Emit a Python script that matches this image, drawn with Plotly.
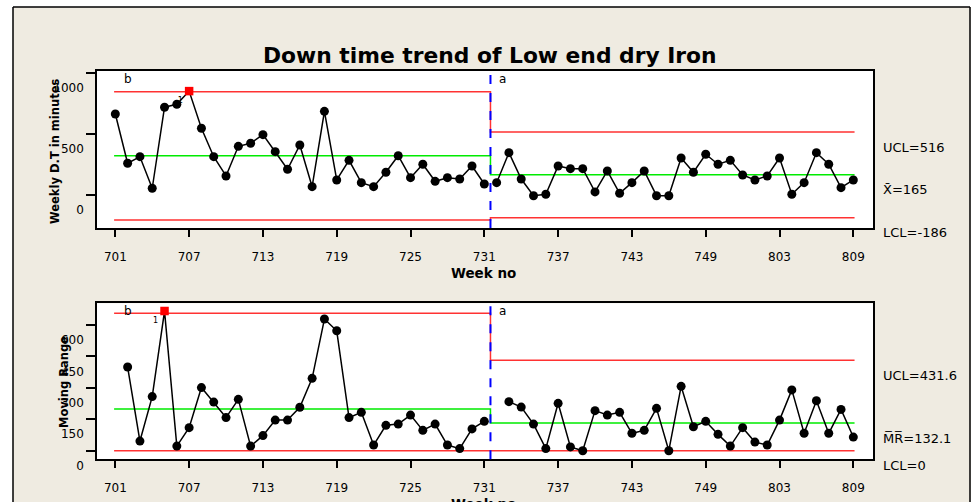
import plotly.graph_objects as go

# ---------------- data ----------------
weeks = [str(w) for w in list(range(701, 753)) + list(range(801, 810))]
tick_weeks = ["701", "707", "713", "719", "725", "731", "737", "743", "749", "803", "809"]

# Individuals, stage b (701-731) and stage a (732-809)
x_b = [664, 260, 314, 55, 720, 744, 852, 547, 314, 156, 399, 424, 495, 355, 211,
       410, 68, 686, 123, 284, 101, 68, 186, 322, 142, 252, 112, 142, 131, 238, 90]
x_a = [101, 347, 131, -6, 6, 238, 216, 216, 25, 197, 14, 101, 197, -6, -6,
       303, 186, 334, 252, 284, 164, 123, 156, 303, 6, 101, 347, 252, 60, 123]

# Moving ranges, stage b (702-731) and stage a (733-809)
mr_b = [399, 46, 258, 666, 22, 110, 301, 232, 158, 245, 22, 72, 146, 146, 207,
        345, 628, 572, 158, 183, 27, 121, 127, 170, 97, 127, 27, 10, 104, 140]
mr_a = [234, 208, 127, 10, 226, 18, 0, 191, 170, 183, 83, 97, 202, 0, 307,
        114, 140, 78, 22, 110, 41, 27, 146, 290, 83, 238, 83, 197, 65]

# Control limits [stage b, stage a]
x_ucl = [847, 516]
x_cl = [321, 165]
x_lcl = [-205, -186]
mr_ucl = [655, 431.6]
mr_cl = [199, 132.1]
mr_lcl = [0, 0]

x_ticks = [0, 500, 1000]
mr_ticks = [0, 150, 300, 450, 600]

x_flag_week = ["707"]
mr_flag_week = ["705"]

# ---------------- layout helpers ----------------
W, H = 971, 502
def px(x): return x / W
def py(y): return 1 - y / H

pos = {w: i for i, w in enumerate(weeks)}
n_b = len(x_b)
split = n_b - 0.5
first, last = 0, len(weeks) - 1

FONT = "DejaVu Sans"
BEIGE = "rgb(239,235,225)"
RED = "rgb(255,50,50)"
GREEN = "rgb(0,235,0)"

fig = go.Figure()

def add_chart(xa, ya, vals_b, weeks_b, vals_a, weeks_a, ucl, cl, lcl, flags):
    for lim, col in ((ucl, RED), (cl, GREEN), (lcl, RED)):
        fig.add_trace(go.Scatter(
            x=[first - 0.1, split, split, last + 0.1],
            y=[lim[0], lim[0], lim[1], lim[1]],
            mode="lines", line=dict(color=col, width=1.5),
            xaxis=xa, yaxis=ya, hoverinfo="skip", showlegend=False))
    allw = weeks_b + weeks_a
    allv = vals_b + vals_a
    for vals, wk in ((vals_b, weeks_b), (vals_a, weeks_a)):
        sizes = [0 if w in flags else 9 for w in wk]
        fig.add_trace(go.Scatter(
            x=[pos[w] for w in wk], y=vals, mode="lines+markers",
            line=dict(color="black", width=1.5),
            marker=dict(color="black", size=sizes, opacity=1, line=dict(width=0)),
            xaxis=xa, yaxis=ya, showlegend=False))
    fx, fy = [], []
    for w in flags:
        fx.append(pos[w]); fy.append(allv[allw.index(w)])
    fig.add_trace(go.Scatter(
        x=fx, y=fy, mode="markers+text", text=["1"] * len(fx),
        textposition="bottom left", textfont=dict(size=8, color="black", family=FONT),
        marker=dict(color="red", size=8.5, symbol="square", opacity=1),
        xaxis=xa, yaxis=ya, showlegend=False))

add_chart("x", "y", x_b, weeks[:n_b], x_a, weeks[n_b:], x_ucl, x_cl, x_lcl, x_flag_week)
add_chart("x2", "y2", mr_b, weeks[1:n_b], mr_a, weeks[n_b + 1:], mr_ucl, mr_cl, mr_lcl, mr_flag_week)

xr = [-1.49, 61.6]
xcommon = dict(range=xr, tickvals=[pos[w] for w in tick_weeks], ticktext=tick_weeks,
               ticks="outside", ticklen=7, tickcolor="black", tickwidth=1.5,
               showline=True, linecolor="black", linewidth=1.5, mirror=True,
               showgrid=False, zeroline=False, ticklabelstandoff=10, automargin=False,
               tickfont=dict(family=FONT, size=12, color="black"))
ycommon = dict(ticks="outside", ticklen=9, tickcolor="black", tickwidth=1.5,
               showline=True, linecolor="black", linewidth=1.5, mirror=True,
               showgrid=False, zeroline=False, ticklabelshift=15, automargin=False,
               tickfont=dict(family=FONT, size=12, color="black"))

fig.update_layout(
    width=W, height=H, margin=dict(l=0, r=0, t=0, b=0, pad=0),
    paper_bgcolor=BEIGE, plot_bgcolor="white", showlegend=False,
    font=dict(family=FONT, color="black"),
    xaxis=dict(domain=[px(97), px(873)], anchor="y", **xcommon),
    yaxis=dict(domain=[py(228), py(71)], anchor="x", range=[-271, 1017],
               tickvals=x_ticks, ticktext=[str(t) for t in x_ticks], **ycommon),
    xaxis2=dict(domain=[px(97), px(873)], anchor="y2", **xcommon),
    yaxis2=dict(domain=[py(459.3), py(303.3)], anchor="x2", range=[-41, 703],
                tickvals=mr_ticks, ticktext=[str(t) for t in mr_ticks], **ycommon),
)

# stage separator
for ya in ("y", "y2"):
    fig.add_shape(type="line", xref="x" if ya == "y" else "x2", yref=f"{ya} domain",
                  x0=split, x1=split, y0=0, y1=1,
                  line=dict(color="blue", width=2, dash="dash"), layer="above")

# outer white margin and frame
fig.add_shape(type="rect", xref="paper", yref="paper", x0=0, x1=px(13), y0=0, y1=1,
              fillcolor="white", line=dict(width=0), layer="below")
fig.add_shape(type="rect", xref="paper", yref="paper", x0=0, x1=1, y0=py(7), y1=1,
              fillcolor="white", line=dict(width=0), layer="below")
fig.add_shape(type="line", xref="paper", yref="paper", x0=px(13), x1=px(13), y0=0, y1=py(7),
              line=dict(color="black", width=1.5))
fig.add_shape(type="line", xref="paper", yref="paper", x0=px(13), x1=px(970), y0=py(7), y1=py(7),
              line=dict(color="black", width=1.5))
fig.add_shape(type="line", xref="paper", yref="paper", x0=px(970), x1=px(970), y0=0, y1=py(7),
              line=dict(color="black", width=1.5))

C = dict(xanchor="center", yanchor="middle", showarrow=False, xref="paper", yref="paper")
ann = []
ann.append(dict(text="<b>Down time trend of Low end dry Iron</b>", x=px(490), y=py(55),
                font=dict(size=21.8, family=FONT), **C))
ann.append(dict(text="<b>Weekly D.T in minutes</b>", x=px(55), y=py(152), textangle=-90,
                font=dict(size=11.5, family=FONT), **C))
ann.append(dict(text="<b>Moving Range</b>", x=px(64), y=py(382), textangle=-90,
                font=dict(size=11.5, family=FONT), **C))
ann.append(dict(text="<b>Week no</b>", x=px(483), y=py(272.7),
                font=dict(size=13.5, family=FONT), **C))
ann.append(dict(text="<b>Week no</b>", x=px(483), y=py(504),
                font=dict(size=13.5, family=FONT), **C))
for xa, yref in (("x", "y domain"), ("x2", "y2 domain")):
    ann.append(dict(text="b", x=1.0, y=0.95, xref=xa, yref=yref, showarrow=False,
                    xanchor="center", yanchor="middle", font=dict(size=12, family=FONT)))
    ann.append(dict(text="a", x=31.5, y=0.95, xref=xa, yref=yref, showarrow=False,
                    xanchor="center", yanchor="middle", font=dict(size=12, family=FONT)))

right_x = [("y", f"UCL={x_ucl[1]}", x_ucl[1]), ("y", f"X\u0304={x_cl[1]}", x_cl[1]),
           ("y", f"LCL={x_lcl[1]}", x_lcl[1]),
           ("y2", f"UCL={mr_ucl[1]}", mr_ucl[1]), ("y2", f"M\u0305R\u0305={mr_cl[1]}", mr_cl[1]),
           ("y2", f"LCL={mr_lcl[1]}", mr_lcl[1])]
for yref, txt, val in right_x:
    ann.append(dict(text=txt, x=px(881), y=val, xref="paper", yref=yref, yshift=-15,
                    xanchor="left", yanchor="middle", showarrow=False,
                    font=dict(size=13, family=FONT)))

fig.update_layout(annotations=ann)
fig.write_html("out.html", config={"displayModeBar": False},
               post_script="document.body.style.margin='0';document.body.style.overflow='hidden';")
